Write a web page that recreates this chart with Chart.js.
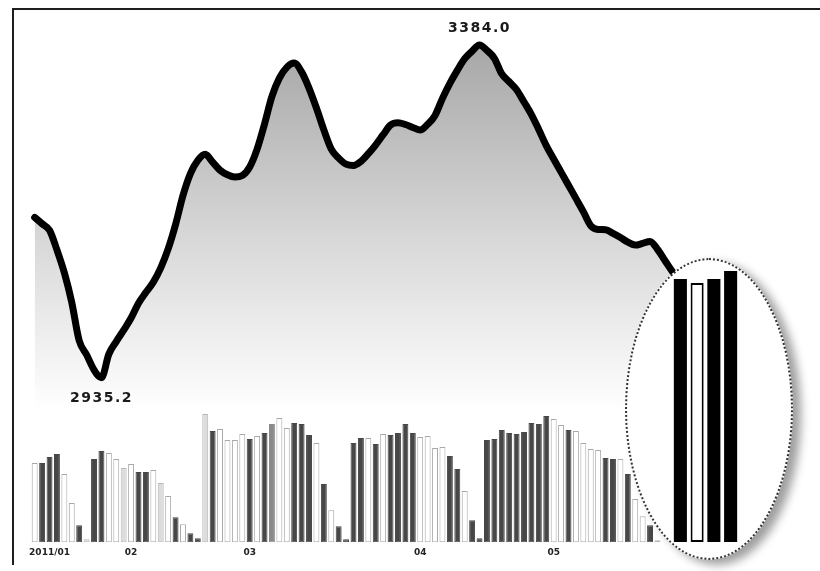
<!DOCTYPE html>
<html>
<head>
<meta charset="utf-8">
<script src="https://cdn.jsdelivr.net/npm/chart.js@4.4.1/dist/chart.umd.min.js"></script>
<style>
  html, body { margin: 0; padding: 0; background: #fff; }
  #wrap { position: relative; width: 820px; height: 571px; overflow: hidden; }
  #frame { position: absolute; left: 12px; top: 8px; width: 808px; height: 557px; box-sizing: border-box;
           border-left: 2px solid #1e1e1e; border-top: 2px solid #1e1e1e; }
  #main { position: absolute; left: 0; top: 0; }
  #lens { position: absolute; left: 625px; top: 258px; width: 168px; height: 302px; box-sizing: border-box;
          border: 2px dotted #333; border-radius: 50%; background: #fff;
          box-shadow: 8px 5px 10px rgba(0,0,0,0.38); }
  #inset { position: absolute; left: 672px; top: 261px; }
</style>
</head>
<body>
<div id="wrap">
  <div id="frame"></div>
  <canvas id="main" width="820" height="571"></canvas>
  <div id="lens"></div>
  <canvas id="inset" width="67" height="281"></canvas>
</div>
<script>
// index level, one value per trading day
const closeValues = [
  3151.5, 3143.0, 3134.2, 3107.7, 3076.9, 3036.9, 2985.4, 2966.3, 2945.9, 2935.2,
  2967.1, 2984.1, 2999.5, 3015.8, 3035.8, 3050.5, 3064.2, 3083.4, 3109.0, 3142.0,
  3181.0, 3210.6, 3228.5, 3236.7, 3226.1, 3215.2, 3209.1, 3206.1, 3208.1, 3219.6,
  3243.7, 3277.6, 3314.7, 3339.4, 3353.9, 3359.7, 3347.8, 3326.0, 3299.1, 3269.6,
  3243.7, 3231.5, 3223.3, 3221.6, 3227.1, 3237.5, 3249.5, 3263.1, 3276.1, 3279.1,
  3276.9, 3272.9, 3269.4, 3277.1, 3289.1, 3312.1, 3332.4, 3349.9, 3365.6, 3375.8,
  3384.0, 3376.8, 3366.2, 3345.1, 3334.5, 3323.8, 3307.2, 3290.3, 3269.9, 3248.4,
  3230.3, 3212.6, 3194.9, 3177.2, 3159.3, 3140.4, 3135.3, 3135.0, 3130.0, 3124.5,
  3118.2, 3114.2, 3116.5, 3119.2, 3108.6, 3093.4, 3078.5
];

// volume bars (last two days hidden under the lens)
const volumeValues = [
  790, 790, 850, 880, 680, 390, 170, 30,
  830, 910, 890, 830, 740, 780, 700, 700, 720, 590, 460, 250, 180, 90, 40,
  1280, 1110, 1130, 1020, 1020, 1080, 1030, 1060, 1090, 1180, 1240, 1140, 1190, 1180, 1070, 990, 580, 320, 160, 30,
  990, 1040, 1040, 980, 1080, 1070, 1090, 1180, 1090, 1050, 1060, 940, 950, 860, 730, 510, 220, 40,
  1020, 1030, 1120, 1090, 1080, 1100, 1190, 1180, 1260, 1230, 1170, 1120, 1110, 990, 930, 920, 840, 830, 830, 680, 430, 260, 170, 20
];
// d = dark, w = white, l = light, g = mid grey
const volumeKinds = (
  'wdddwwdl' +
  'ddwwlwddwlwdwdd' +
  'ldwwwwdwdgwwdddwdwdd' +
  'ddwdwddddwwwwddwdd' +
  'dddddddddwwdwwwwddwdwwdl'
).split('');

const tickIndex = [2, 13, 29, 52, 70];
const tickText = ['2011/01', '02', '03', '04', '05'];

const insetLabels = ['a', 'b', 'c', 'd'];
const insetValues = [263, 259, 263, 271];

const days = closeValues.map((_, i) => i);

const KIND_FILL = { d: '#474747', w: '#ffffff', l: '#dcdcdc', g: '#8a8a8a' };
const KIND_LINE = { d: '#474747', w: '#a8a8a8', l: '#b8b8b8', g: '#8a8a8a' };

const extremaLabels = {
  id: 'extremaLabels',
  afterDatasetsDraw(chart) {
    const meta = chart.getDatasetMeta(0);
    const ctx = chart.ctx;
    const lo = closeValues.indexOf(Math.min(...closeValues));
    const hi = closeValues.indexOf(Math.max(...closeValues));
    ctx.save();
    ctx.font = 'bold 14px "DejaVu Sans"';
    ctx.letterSpacing = '1.5px';
    ctx.fillStyle = '#1a1a1a';
    ctx.textAlign = 'center';
    ctx.textBaseline = 'middle';
    ctx.fillText(closeValues[lo].toFixed(1), meta.data[lo].x, meta.data[lo].y + 21);
    ctx.fillText(closeValues[hi].toFixed(1), meta.data[hi].x, meta.data[hi].y - 17);
    ctx.restore();
  }
};

new Chart(document.getElementById('main'), {
  data: {
    labels: days,
    datasets: [
      {
        type: 'line',
        data: closeValues,
        yAxisID: 'y',
        order: 1,
        borderColor: '#000',
        borderWidth: 7,
        borderCapStyle: 'round',
        borderJoinStyle: 'round',
        cubicInterpolationMode: 'monotone',
        pointRadius: 0,
        fill: 'start',
        clip: false,
        backgroundColor: (c) => {
          const area = c.chart.chartArea;
          if (!area) return 'rgba(0,0,0,0)';
          const g = c.chart.ctx.createLinearGradient(0, area.top + 20, 0, area.top + 390);
          g.addColorStop(0, '#a6a6a6');
          g.addColorStop(0.55, '#d9d9d9');
          g.addColorStop(1, '#ffffff');
          return g;
        }
      },
      {
        type: 'bar',
        data: volumeValues,
        yAxisID: 'y1',
        order: 0,
        backgroundColor: volumeKinds.map(k => KIND_FILL[k]),
        borderColor: volumeKinds.map(k => KIND_LINE[k]),
        borderWidth: 1,
        borderSkipped: false,
        barPercentage: 0.8,
        categoryPercentage: 1
      }
    ]
  },
  options: {
    responsive: false,
    animation: false,
    layout: { padding: { left: 31, right: 144, top: 20, bottom: 8 } },
    plugins: { legend: { display: false }, tooltip: { enabled: false } },
    scales: {
      x: {
        grid: { display: false, drawTicks: false },
        border: { display: false },
        ticks: {
          autoSkip: false,
          maxRotation: 0,
          padding: 5,
          color: '#222',
          font: { family: 'DejaVu Sans', size: 9, weight: 'bold' },
          callback: (v, i) => {
            const k = tickIndex.indexOf(i);
            return k < 0 ? '' : tickText[k];
          }
        }
      },
      y: { display: false, min: 2713.5, max: 3417.8 },
      y1: { display: false, min: 0, max: 5210 }
    }
  },
  plugins: [extremaLabels]
});

new Chart(document.getElementById('inset'), {
  type: 'bar',
  data: {
    labels: insetLabels,
    datasets: [{
      data: insetValues,
      backgroundColor: ['#000', '#fff', '#000', '#000'],
      borderColor: '#000',
      borderWidth: [0, 2, 0, 0],
      borderSkipped: false,
      barPercentage: 0.78,
      categoryPercentage: 1
    }]
  },
  options: {
    responsive: false,
    animation: false,
    layout: { padding: 0 },
    plugins: { legend: { display: false }, tooltip: { enabled: false } },
    scales: {
      x: { display: false },
      y: { display: false, min: 0, max: 281 }
    }
  }
});
</script>
</body>
</html>
